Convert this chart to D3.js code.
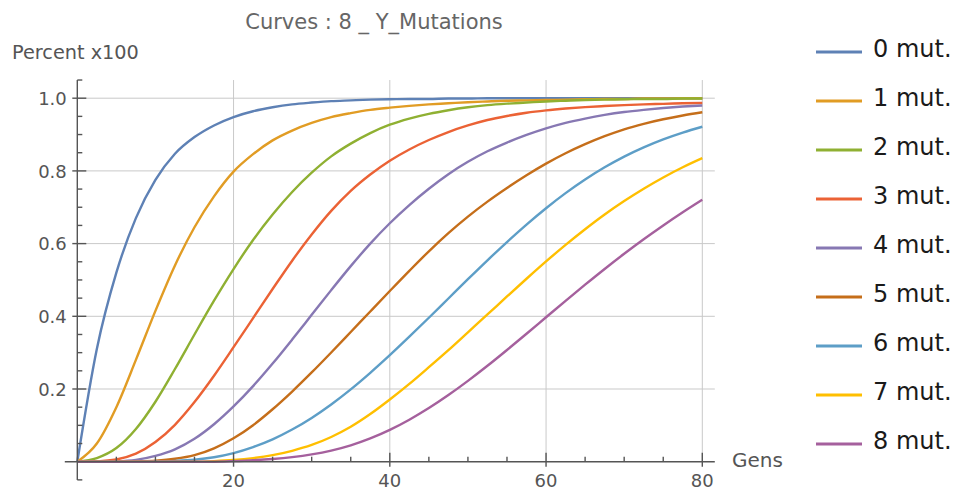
<!DOCTYPE html>
<html>
<head>
<meta charset="utf-8">
<script src="https://cdn.jsdelivr.net/npm/d3@7"></script>
<style>
  html, body { margin: 0; padding: 0; background: #ffffff; }
  svg { display: block; }
</style>
</head>
<body>
<div id="chart"></div>
<script>
// ---------------- DATA ----------------
const chartTitle = "Curves : 8 _ Y_Mutations";
const yAxisLabel = "Percent x100";
const xAxisLabel = "Gens";

const gens = [0, 2.5, 5, 7.5, 10, 12.5, 15, 17.5, 20, 22.5, 25, 27.5, 30, 32.5, 35, 37.5, 40,
              42.5, 45, 47.5, 50, 52.5, 55, 57.5, 60, 62.5, 65, 67.5, 70, 72.5, 75, 77.5, 80];

const seriesNames = ["0 mut.", "1 mut.", "2 mut.", "3 mut.", "4 mut.", "5 mut.", "6 mut.", "7 mut.", "8 mut."];

const mut0 = [0, 0.31, 0.52, 0.67, 0.775, 0.847, 0.893, 0.925, 0.948, 0.964, 0.975, 0.983, 0.988, 0.992, 0.994, 0.996, 0.997,
              0.998, 0.998, 0.999, 0.999, 1, 1, 1, 1, 1, 1, 1, 1, 1, 1, 1, 1];
const mut1 = [0, 0.05, 0.15, 0.28, 0.415, 0.54, 0.645, 0.73, 0.798, 0.846, 0.884, 0.911, 0.932, 0.948, 0.959, 0.968, 0.974,
              0.979, 0.983, 0.986, 0.989, 0.991, 0.993, 0.994, 0.995, 0.996, 0.997, 0.998, 0.998, 0.999, 0.999, 1, 1];
const mut2 = [0, 0.01, 0.0375, 0.09, 0.165, 0.255, 0.35, 0.443, 0.53, 0.61, 0.68, 0.742, 0.795, 0.84, 0.875, 0.904, 0.927,
              0.944, 0.957, 0.967, 0.975, 0.981, 0.985, 0.988, 0.991, 0.993, 0.995, 0.996, 0.997, 0.998, 0.998, 0.999, 0.999];
const mut3 = [0, 0.001, 0.006, 0.022, 0.054, 0.1015, 0.164, 0.2365, 0.315, 0.395, 0.475, 0.553, 0.625, 0.69, 0.745, 0.79, 0.828,
              0.859, 0.885, 0.907, 0.925, 0.94, 0.951, 0.96, 0.9665, 0.9715, 0.9755, 0.9785, 0.981, 0.983, 0.9845, 0.986, 0.987];
const mut4 = [0, 0, 0.001, 0.005, 0.016, 0.034, 0.063, 0.103, 0.152, 0.208, 0.27, 0.336, 0.404, 0.472, 0.538, 0.60, 0.656,
              0.706, 0.751, 0.791, 0.825, 0.854, 0.878, 0.899, 0.917, 0.932, 0.944, 0.954, 0.962, 0.968, 0.973, 0.977, 0.98];
const mut5 = [0, 0, 0, 0.001, 0.003, 0.008, 0.018, 0.0368, 0.0643, 0.1005, 0.1443, 0.193, 0.2455, 0.3005, 0.3568, 0.4133, 0.4695,
              0.525, 0.5788, 0.6288, 0.6743, 0.7155, 0.753, 0.788, 0.82, 0.8485, 0.8735, 0.8955, 0.9145, 0.9295, 0.942, 0.9525, 0.9613];
const mut6 = [0, 0, 0, 0, 0.0008, 0.0023, 0.0055, 0.0123, 0.0238, 0.0403, 0.0615, 0.0885, 0.1205, 0.1575, 0.199, 0.2445, 0.293,
              0.3438, 0.396, 0.449, 0.502, 0.554, 0.6043, 0.6523, 0.6973, 0.7388, 0.7763, 0.8098, 0.8393, 0.8648, 0.8868, 0.9055, 0.9215];
const mut7 = [0, 0, 0, 0, 0, 0, 0, 0.0015, 0.0045, 0.0098, 0.018, 0.03, 0.046, 0.068, 0.096, 0.131, 0.171,
              0.214, 0.26, 0.307, 0.356, 0.405, 0.4545, 0.5033, 0.551, 0.5965, 0.6395, 0.68, 0.717, 0.751, 0.782, 0.81, 0.835];
const mut8 = [0, 0, 0, 0, 0, 0, 0, 0, 0.0015, 0.0038, 0.0073, 0.0125, 0.02, 0.0305, 0.045, 0.064, 0.0875,
              0.1155, 0.1475, 0.1833, 0.2223, 0.2638, 0.3073, 0.352, 0.3973, 0.4425, 0.487, 0.5303, 0.572, 0.612, 0.65, 0.6863, 0.7208];

const seriesValues = [mut0, mut1, mut2, mut3, mut4, mut5, mut6, mut7, mut8];
const seriesColors = ["#5E81B5", "#E19C24", "#8FB032", "#EB6235", "#8778B3", "#C56E1A", "#5D9EC7", "#FFBF00", "#A5609D"];

const xMajorTicks = [20, 40, 60, 80];
const xTickLabels = ["20", "40", "60", "80"];
const yMajorTicks = [0.2, 0.4, 0.6, 0.8, 1.0];
const yTickLabels = ["0.2", "0.4", "0.6", "0.8", "1.0"];

// ---------------- CHART ----------------
const W = 956, H = 491;
const FONT = "'DejaVu Sans', Arial, sans-serif";

const svg = d3.select("#chart").append("svg")
  .attr("width", W).attr("height", H)
  .attr("viewBox", `0 0 ${W} ${H}`);

const x = d3.scaleLinear().domain([0, 80]).range([77.3, 702.3]);
const y = d3.scaleLinear().domain([0, 1]).range([461.7, 98.2]);

const xMin = -1.6, xMax = 81.6, yMin = -0.05, yMax = 1.05;

// gridlines
const grid = svg.append("g").attr("stroke", "#c9c9c9").attr("stroke-width", 1);
grid.selectAll("line.v").data(xMajorTicks).join("line")
  .attr("x1", d => x(d)).attr("x2", d => x(d))
  .attr("y1", y(0)).attr("y2", y(yMax));
grid.selectAll("line.h").data(yMajorTicks).join("line")
  .attr("x1", x(0)).attr("x2", x(xMax))
  .attr("y1", d => y(d)).attr("y2", d => y(d));

// curves
const line = d3.line()
  .x((d, i) => x(gens[i]))
  .y(d => y(d))
  .curve(d3.curveMonotoneX);

svg.append("g").selectAll("path").data(seriesValues).join("path")
  .attr("d", d => line(d))
  .attr("fill", "none")
  .attr("stroke", (d, i) => seriesColors[i])
  .attr("stroke-width", 2.4)
  .attr("stroke-linejoin", "round");

// axes
const axisColor = "#555";
const ax = svg.append("g").attr("stroke", axisColor).attr("stroke-width", 1.4);
ax.append("line").attr("x1", x(xMin)).attr("x2", x(xMax)).attr("y1", y(0)).attr("y2", y(0));
ax.append("line").attr("x1", x(0)).attr("x2", x(0)).attr("y1", y(yMin)).attr("y2", y(yMax));

// x ticks
const xMinor = d3.range(5, 81, 5).filter(v => v % 20 !== 0);
ax.selectAll("line.xmin").data(xMinor).join("line")
  .attr("x1", d => x(d)).attr("x2", d => x(d))
  .attr("y1", y(0)).attr("y2", y(0) - 5);
ax.selectAll("line.xmaj").data(xMajorTicks).join("line")
  .attr("x1", d => x(d)).attr("x2", d => x(d))
  .attr("y1", y(0) + 5).attr("y2", y(0) - 9);

// y ticks
const yMinor = d3.range(-0.05, 1.06, 0.05).map(v => Math.round(v * 100) / 100)
  .filter(v => Math.abs((v * 100) % 20) > 0.001);
ax.selectAll("line.ymin").data(yMinor).join("line")
  .attr("x1", x(0)).attr("x2", x(0) + 5)
  .attr("y1", d => y(d)).attr("y2", d => y(d));
ax.selectAll("line.ymaj").data(yMajorTicks).join("line")
  .attr("x1", x(0) - 5).attr("x2", x(0) + 9)
  .attr("y1", d => y(d)).attr("y2", d => y(d));

// tick labels
svg.append("g").selectAll("text").data(xMajorTicks).join("text")
  .attr("x", d => x(d)).attr("y", y(0) + 25.5)
  .attr("text-anchor", "middle")
  .attr("font-family", FONT).attr("font-size", 18).attr("fill", "#555")
  .text((d, i) => xTickLabels[i]);

svg.append("g").selectAll("text").data(yMajorTicks).join("text")
  .attr("x", x(0) - 10.5).attr("y", d => y(d) + 6.6)
  .attr("text-anchor", "end")
  .attr("font-family", FONT).attr("font-size", 18).attr("fill", "#555")
  .text((d, i) => yTickLabels[i]);

// axis labels and title
svg.append("text").attr("x", 374).attr("y", 29)
  .attr("text-anchor", "middle")
  .attr("font-family", FONT).attr("font-size", 21).attr("fill", "#666")
  .text(chartTitle);

svg.append("text").attr("x", 12).attr("y", 59)
  .attr("font-family", FONT).attr("font-size", 19.3).attr("fill", "#555")
  .text(yAxisLabel);

svg.append("text").attr("x", 732).attr("y", 466.5)
  .attr("font-family", FONT).attr("font-size", 20).attr("fill", "#555")
  .text(xAxisLabel);

// legend
const legendY0 = 52, legendStep = 49;
const lg = svg.append("g");
const items = lg.selectAll("g").data(seriesNames).join("g")
  .attr("transform", (d, i) => `translate(0, ${legendY0 + i * legendStep})`);
items.append("line")
  .attr("x1", 816).attr("x2", 862).attr("y1", 0).attr("y2", 0)
  .attr("stroke", (d, i) => seriesColors[i]).attr("stroke-width", 3.2);
items.append("text")
  .attr("x", 873).attr("y", 4.6)
  .attr("font-family", FONT).attr("font-size", 24).attr("fill", "#1a1a1a")
  .text(d => d);
</script>
</body>
</html>
